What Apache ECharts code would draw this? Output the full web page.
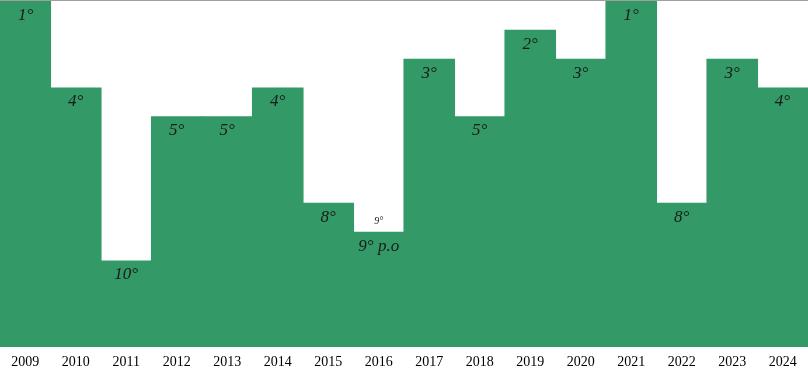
<!DOCTYPE html>
<html><head><meta charset="utf-8">
<script src="https://cdn.jsdelivr.net/npm/echarts@6/dist/echarts.min.js"></script>
<style>html,body{margin:0;padding:0;background:#fff}#c{width:808px;height:374px}</style>
</head><body><div id="c"></div>
<script>
const years = ['2009','2010','2011','2012','2013','2014','2015','2016','2017','2018','2019','2020','2021','2022','2023','2024'];
const ranks = [1,4,10,5,5,4,8,9,3,5,2,3,1,8,3,4];
const rankLabels = ['1°','4°','10°','5°','5°','4°','8°','9° p.o','3°','5°','2°','3°','1°','8°','3°','4°'];
const topNotes = ['','','','','','','','9°','','','','','','','',''];
const worstRank = 13;

const chart = echarts.init(document.getElementById('c'));
chart.setOption({
  animation:false,
  grid:{left:0,right:0,top:1,bottom:27},
  xAxis:{type:'category',data:years,axisLine:{show:false},axisTick:{show:false},
    axisLabel:{color:'#000',fontFamily:'Liberation Serif',fontSize:14,margin:8}},
  yAxis:{type:'value',min:0,max:worstRank-1,show:false,splitLine:{show:false}},
  graphic:[{type:'line',shape:{x1:0,y1:0.5,x2:808,y2:0.5},style:{stroke:'#a0a0a0',lineWidth:1},z:100}],
  series:[
    {type:'bar',barWidth:51.6,barGap:'-100%',
     data:ranks.map((r,i)=>({value:worstRank-r,
       label:{formatter:rankLabels[i]}})),
     itemStyle:{color:'#339966'},
     label:{show:true,position:'insideTop',distance:6,color:'#1a1a1a',fontFamily:'Liberation Serif',fontStyle:'italic',fontSize:17}},
    {type:'bar',barWidth:51.6,barGap:'-100%',
     data:ranks.map((r,i)=>({value:worstRank-r,label:{show:!!topNotes[i],formatter:topNotes[i]}})),
     itemStyle:{color:'rgba(0,0,0,0)'},
     label:{position:'top',distance:5,color:'#1a1a1a',fontFamily:'Liberation Serif',fontStyle:'italic',fontSize:10}}
  ]
});
</script></body></html>
